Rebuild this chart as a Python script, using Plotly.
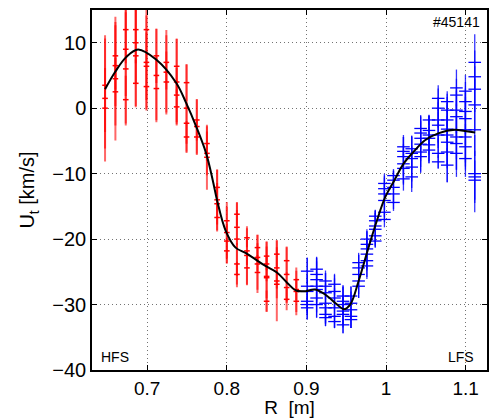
import plotly.graph_objects as go

# ---- data ----
hfs_R = [0.647, 0.660, 0.673, 0.6856, 0.699, 0.7115, 0.724, 0.737, 0.7494, 0.7623,
         0.775, 0.7878, 0.800, 0.8127, 0.8253, 0.8385, 0.850, 0.8628, 0.8752, 0.8873]
hfs_U = [[1.5, 3.5, 0], [4.5, 6.5, 2.5, 8], [6, 9, 1.3, 12], [8, 10, 3.8, 12],
         [7, 12, 6.4, 3.3], [5, 8, 3], [5.5, 4, 7], [4, 6.4, 0.2, 2],
         [0, 3.9, -2.3, -4.4], [-2.8, -1.8, -4.4], [-7.5, -5.4, -6.9],
         [-14, -12.1, -16.7, -14.6], [-19, -17.2, -21.8, -20.3],
         [-16.2, -20, -23.8, -18.2, -25.4], [-22.5, -19.8, -21.8, -24.4],
         [-23.8, -21.3, -22.8, -25.1], [-25.7, -22.6, -23.8, -29.5, -25.9],
         [-26.4, -22.3, -24.4, -26.9], [-25.4, -23.3, -27.4, -29.2],
         [-28, -26.2, -27.7, -29.5]]
hfs_err = [[9.5, 7, 6], [9.3, 6, 5, 5], [8.5, 7, 3.5, 5], [7.5, 6, 3.5, 5],
           [7, 5, 5, 3.5], [7, 4, 4.7], [6.3, 4.5, 4], [6.5, 4, 2.5, 4],
           [6.5, 2.7, 3, 2.3], [4, 3, 2.6], [4.8, 2.5, 3.2],
           [4.5, 2.5, 2, 3], [4.5, 2, 1.8, 2.5],
           [1.6, 5.5, 3, 2.5, 1.8], [4.3, 1.3, 2, 2.5],
           [4.3, 1.8, 2, 2.5], [5.2, 2, 2.5, 1.5, 3],
           [6, 2, 3, 2], [4, 2, 2.2, 1.5],
           [3.5, 1.2, 1.5, 1.5]]

lfs_R = [0.901, 0.9128, 0.924, 0.9353, 0.946, 0.956, 0.9656, 0.976, 0.9865, 0.998,
         1.0094, 1.0219, 1.0323, 1.0435, 1.054, 1.0656, 1.0769, 1.0885, 1.0998, 1.1115]
lfs_U = [[-24.9, -27.2, -28, -30, -29.5, -30.5],
         [-24.6, -25.4, -26.2, -27.2, -27.7, -29, -30],
         [-26.4, -27.2, -28.2, -29.8, -30.5, -31.5, -32],
         [-26.9, -28, -29, -30.5, -31.8, -32.6],
         [-28.7, -29.5, -30, -31, -31.5, -33.1],
         [-28.7, -29.8, -30.8, -31.8, -32.3],
         [-23.6, -24.4, -25.4, -26.4, -27.2],
         [-20, -20.8, -21.5, -22.3, -23.3, -24.1],
         [-16.5, -17.2, -18, -18.5, -19.5, -20.3],
         [-11.5, -12.3, -13.1, -14.1, -15.9, -17],
         [-10.3, -11, -12.1, -13.1, -14.4],
         [-5.9, -6.6, -7.4, -8.5, -9.2, -10.8],
         [-6.2, -6.9, -7.7, -9, -10.5],
         [-3.1, -3.8, -4.6, -5.5, -6.7, -7.4],
         [-1.8, -3.4, -4.1, -4.6, -5.6, -6.4],
         [1.5, 0, -1.8, -2.6, -4.1, -6.9, -8.2],
         [1, -0.3, -1.8, -3.2, -4.1, -5.2, -6.7, -8.7],
         [3.1, 2, -0.3, -1.3, -3.3, -4.4, -5.4, -6.9],
         [2.6, 1, -0.5, -1.6, -3.3, -4.4, -5.9, -7.7],
         [7, 4.8, 2.9, 0.5, -3.3, -10, -10.5, -11]]
lfs_err = [[2, 4.4, 2.5, 2.3, 1.8, 1.8],
           [1.8, 2.5, 3.5, 2.2, 4.3, 2.2, 2],
           [1.6, 2, 3, 3, 2.5, 1.8, 1.3],
           [1.6, 2.5, 3, 3, 1.8, 1],
           [1.5, 2.2, 3, 2.5, 2.9, 1.3],
           [1.5, 2.5, 2.8, 1.8, 1.3],
           [1.5, 2, 3, 2.6, 1.8],
           [1.2, 2, 3, 2.5, 2.5, 2],
           [0.9, 1.5, 2.5, 2.5, 1.8, 1],
           [1.5, 2, 2.5, 2.5, 1.5, 1.2],
           [1, 1.5, 2.5, 2.3, 1.3],
           [1.5, 2.5, 3, 3, 2.5, 1.8],
           [2, 2.5, 3.5, 3.2, 2.3],
           [2, 2.5, 3.5, 3.5, 3, 2.5],
           [0.8, 2.2, 3, 3.5, 2.8, 2],
           [2, 3, 3.5, 3.5, 3.5, 2.3, 1],
           [1.6, 2.5, 3.5, 4, 4.5, 4, 4.6, 2.6],
           [2.8, 2.5, 3.5, 4, 4.5, 5, 4, 3.6],
           [2.5, 3, 3.5, 4, 5, 4.5, 3.5, 2.8],
           [4.3, 4, 3.5, 4, 4, 5.9, 4, 3]]

fit_R = [0.647, 0.66, 0.6735, 0.6885, 0.7115, 0.7365, 0.749, 0.7615, 0.774, 0.7823,
         0.7878, 0.7985, 0.811, 0.8235, 0.836, 0.8485, 0.8629, 0.876, 0.887, 0.899,
         0.911, 0.924, 0.9385, 0.9469, 0.955, 0.9656, 0.978, 0.9885, 0.999, 1.0106,
         1.0219, 1.0344, 1.049, 1.0656, 1.0865, 1.099, 1.112]
fit_U = [2.9, 5.6, 7.8, 8.97, 7.4, 3.85, 0.77, -2.8, -6.9, -11,
         -14.1, -18.7, -21.3, -22.1, -23.1, -24.1, -25.1, -26.7, -27.85, -27.95,
         -27.7, -28.5, -30, -30.7, -30, -26.4, -21.3, -17.2, -13.6, -11,
         -8.5, -6.7, -4.9, -3.85, -3.3, -3.5, -3.7]

x_ticks = [0.7, 0.8, 0.9, 1.0, 1.1]
x_tick_text = ["0.7", "0.8", "0.9", "1", "1.1"]
y_ticks = [-40, -30, -20, -10, 0, 10]


def flatten(cols_R, cols_U, cols_E):
    xs, ys, es = [], [], []
    for r, us, er in zip(cols_R, cols_U, cols_E):
        for u, e in zip(us, er):
            xs.append(r)
            ys.append(u)
            es.append(e)
    return xs, ys, es


hx, hy, he = flatten(hfs_R, hfs_U, hfs_err)
lx, ly, le = flatten(lfs_R, lfs_U, lfs_err)

RED = "rgb(255,0,0)"
BLUE = "rgb(0,0,255)"
FONT = "Liberation Sans, Arial, sans-serif"

fig = go.Figure()
fig.add_trace(go.Scatter(
    x=hx, y=hy, mode="markers",
    marker=dict(symbol="line-ew-open", size=4, color=RED, line=dict(color=RED, width=1.5)),
    error_y=dict(type="data", array=he, visible=True, color="rgba(255,0,0,0.6)",
                 thickness=2, width=1),
    showlegend=False))
fig.add_trace(go.Scatter(
    x=lx, y=ly, mode="markers",
    marker=dict(symbol="line-ew-open", size=9, color=BLUE, line=dict(color=BLUE, width=1.3)),
    error_y=dict(type="data", array=le, visible=True, color="rgba(0,0,255,0.8)",
                 thickness=1.3, width=0),
    showlegend=False))
fig.add_trace(go.Scatter(
    x=fit_R, y=fit_U, mode="lines", line=dict(color="black", width=2, shape="spline"),
    showlegend=False))

axis_common = dict(
    showline=True, linecolor="black", linewidth=1.5, mirror="ticks",
    ticks="inside", ticklen=5, tickcolor="black",
    showgrid=True, gridcolor="rgba(0,0,0,0.55)", griddash="1px,3px", gridwidth=1,
    zeroline=False,
)
fig.update_xaxes(range=[0.6306, 1.1269], tickvals=x_ticks, ticktext=x_tick_text,
                 tickfont=dict(family=FONT, size=19, color="black"),
                 title=dict(text="R  [m]", font=dict(family=FONT, size=19, color="black"),
                            standoff=0), **axis_common)
fig.update_yaxes(range=[-40, 15], tickvals=y_ticks,
                 tickfont=dict(family=FONT, size=20, color="black"),
                 title=dict(text="U<sub>t</sub>&nbsp;[km/s]",
                            font=dict(family=FONT, size=20, color="black"),
                            standoff=12), **axis_common)

ann_font = dict(family=FONT, size=14, color="black")
fig.add_annotation(x=0.987, y=0.995, xref="paper", yref="paper", text="#45141",
                   showarrow=False, xanchor="right", yanchor="top", font=ann_font)
fig.add_annotation(x=0.018, y=0.008, xref="paper", yref="paper", text="HFS",
                   showarrow=False, xanchor="left", yanchor="bottom", font=ann_font)
fig.add_annotation(x=0.972, y=0.008, xref="paper", yref="paper", text="LFS",
                   showarrow=False, xanchor="right", yanchor="bottom", font=ann_font)

fig.update_layout(
    width=491, height=418,
    margin=dict(l=92, r=2, t=10, b=48),
    plot_bgcolor="white", paper_bgcolor="white",
    font=dict(family=FONT, color="black"),
)

fig.write_html("out.html", config={"displayModeBar": False},
               post_script="document.body.style.margin='0';document.body.style.padding='0';")
